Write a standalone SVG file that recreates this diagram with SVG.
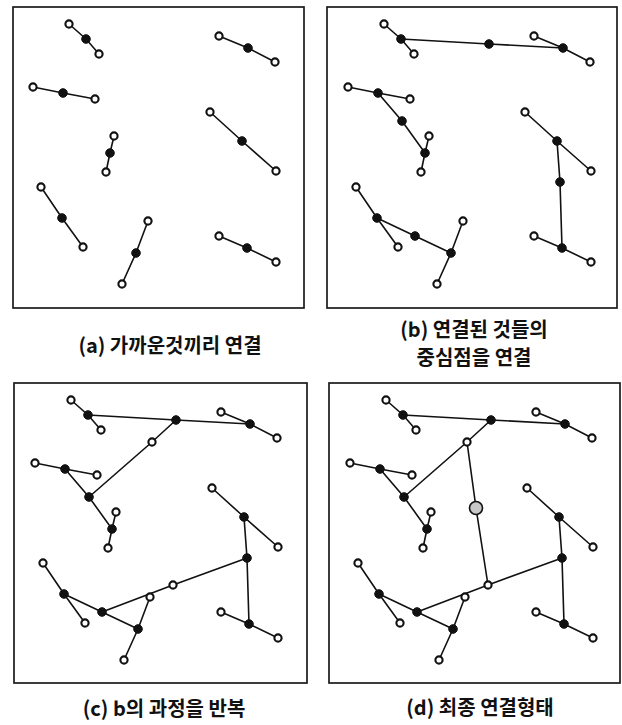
<svg xmlns="http://www.w3.org/2000/svg" width="622" height="725" viewBox="0 0 622 725">
<style>
.frame{fill:none;stroke:#1a1a1a;stroke-width:1.7}
.e{stroke:#111;stroke-width:1.6;fill:none;stroke-linecap:round}
.o{fill:#fff;stroke:#111;stroke-width:2.1}
.f{fill:#111;stroke:#111;stroke-width:1}
.g{fill:#c8c8c8;stroke:#111;stroke-width:1.6}
.lbl{font-family:"Noto Sans CJK KR","Noto Sans",sans-serif;font-weight:bold;font-size:20px;fill:#111;text-anchor:middle}
</style>
<rect width="622" height="725" fill="#fff"/>
<rect class="frame" x="13" y="7" width="291" height="301"/>
<rect class="frame" x="327" y="7" width="290" height="301"/>
<rect class="frame" x="14" y="383" width="293" height="300"/>
<rect class="frame" x="329" y="383" width="291" height="300"/>

<!-- Panel a -->
<g id="panel-a">
<g id="a-connectors">
<polyline class="e" points="69,24 86,39 99,54"/>
<polyline class="e" points="219,36 248,48 275,62"/>
<polyline class="e" points="33,87 63,93 95,99"/>
<polyline class="e" points="210,112 242,141 276,171"/>
<polyline class="e" points="114,136 110,153 106,172"/>
<polyline class="e" points="41,187 62,218 83,247"/>
<polyline class="e" points="148,221 136,253 122,284"/>
<polyline class="e" points="219,236 247,248 276,262"/>
</g>
<g id="a-O1a"><circle class="o" cx="69" cy="24" r="3.6"/></g>
<g id="a-F1"><circle class="f" cx="86" cy="39" r="4.3"/></g>
<g id="a-O1b"><circle class="o" cx="99" cy="54" r="3.6"/></g>
<g id="a-O2a"><circle class="o" cx="219" cy="36" r="3.6"/></g>
<g id="a-F2"><circle class="f" cx="248" cy="48" r="4.3"/></g>
<g id="a-O2b"><circle class="o" cx="275" cy="62" r="3.6"/></g>
<g id="a-O3a"><circle class="o" cx="33" cy="87" r="3.6"/></g>
<g id="a-F3"><circle class="f" cx="63" cy="93" r="4.3"/></g>
<g id="a-O3b"><circle class="o" cx="95" cy="99" r="3.6"/></g>
<g id="a-O4a"><circle class="o" cx="210" cy="112" r="3.6"/></g>
<g id="a-F4"><circle class="f" cx="242" cy="141" r="4.3"/></g>
<g id="a-O4b"><circle class="o" cx="276" cy="171" r="3.6"/></g>
<g id="a-O5a"><circle class="o" cx="114" cy="136" r="3.6"/></g>
<g id="a-F5"><circle class="f" cx="110" cy="153" r="4.3"/></g>
<g id="a-O5b"><circle class="o" cx="106" cy="172" r="3.6"/></g>
<g id="a-O6a"><circle class="o" cx="41" cy="187" r="3.6"/></g>
<g id="a-F6"><circle class="f" cx="62" cy="218" r="4.3"/></g>
<g id="a-O6b"><circle class="o" cx="83" cy="247" r="3.6"/></g>
<g id="a-O7a"><circle class="o" cx="148" cy="221" r="3.6"/></g>
<g id="a-F7"><circle class="f" cx="136" cy="253" r="4.3"/></g>
<g id="a-O7b"><circle class="o" cx="122" cy="284" r="3.6"/></g>
<g id="a-O8a"><circle class="o" cx="219" cy="236" r="3.6"/></g>
<g id="a-F8"><circle class="f" cx="247" cy="248" r="4.3"/></g>
<g id="a-O8b"><circle class="o" cx="276" cy="262" r="3.6"/></g>
</g>

<!-- Panel b -->
<g id="panel-b" transform="translate(315,0)">
<g id="b-connectors">
<polyline class="e" points="69,24 86,39 99,54"/>
<polyline class="e" points="219,36 248,48 275,62"/>
<polyline class="e" points="33,87 63,93 95,99"/>
<polyline class="e" points="210,112 242,141 276,171"/>
<polyline class="e" points="114,136 110,153 106,172"/>
<polyline class="e" points="41,187 62,218 83,247"/>
<polyline class="e" points="148,221 136,253 122,284"/>
<polyline class="e" points="219,236 247,248 276,262"/>
<polyline class="e" points="86,39 174,44 248,48"/>
<polyline class="e" points="63,93 87,121 110,153"/>
<polyline class="e" points="242,141 245,182 247,248"/>
<polyline class="e" points="62,218 100,236 136,253"/>
</g>
<g id="b-O1a"><circle class="o" cx="69" cy="24" r="3.6"/></g>
<g id="b-F1"><circle class="f" cx="86" cy="39" r="4.3"/></g>
<g id="b-O1b"><circle class="o" cx="99" cy="54" r="3.6"/></g>
<g id="b-O2a"><circle class="o" cx="219" cy="36" r="3.6"/></g>
<g id="b-F2"><circle class="f" cx="248" cy="48" r="4.3"/></g>
<g id="b-O2b"><circle class="o" cx="275" cy="62" r="3.6"/></g>
<g id="b-O3a"><circle class="o" cx="33" cy="87" r="3.6"/></g>
<g id="b-F3"><circle class="f" cx="63" cy="93" r="4.3"/></g>
<g id="b-O3b"><circle class="o" cx="95" cy="99" r="3.6"/></g>
<g id="b-O4a"><circle class="o" cx="210" cy="112" r="3.6"/></g>
<g id="b-F4"><circle class="f" cx="242" cy="141" r="4.3"/></g>
<g id="b-O4b"><circle class="o" cx="276" cy="171" r="3.6"/></g>
<g id="b-O5a"><circle class="o" cx="114" cy="136" r="3.6"/></g>
<g id="b-F5"><circle class="f" cx="110" cy="153" r="4.3"/></g>
<g id="b-O5b"><circle class="o" cx="106" cy="172" r="3.6"/></g>
<g id="b-O6a"><circle class="o" cx="41" cy="187" r="3.6"/></g>
<g id="b-F6"><circle class="f" cx="62" cy="218" r="4.3"/></g>
<g id="b-O6b"><circle class="o" cx="83" cy="247" r="3.6"/></g>
<g id="b-O7a"><circle class="o" cx="148" cy="221" r="3.6"/></g>
<g id="b-F7"><circle class="f" cx="136" cy="253" r="4.3"/></g>
<g id="b-O7b"><circle class="o" cx="122" cy="284" r="3.6"/></g>
<g id="b-O8a"><circle class="o" cx="219" cy="236" r="3.6"/></g>
<g id="b-F8"><circle class="f" cx="247" cy="248" r="4.3"/></g>
<g id="b-O8b"><circle class="o" cx="276" cy="262" r="3.6"/></g>
<g id="b-M12"><circle class="f" cx="174" cy="44" r="4.3"/></g>
<g id="b-M35"><circle class="f" cx="87" cy="121" r="4.3"/></g>
<g id="b-M48"><circle class="f" cx="245" cy="182" r="4.3"/></g>
<g id="b-M67"><circle class="f" cx="100" cy="236" r="4.3"/></g>
</g>

<!-- Panel c -->
<g id="panel-c" transform="translate(2,376)">
<g id="c-connectors">
<polyline class="e" points="69,24 86,39 99,54"/>
<polyline class="e" points="219,36 248,48 275,62"/>
<polyline class="e" points="33,87 63,93 95,99"/>
<polyline class="e" points="210,112 242,141 276,171"/>
<polyline class="e" points="114,136 110,153 106,172"/>
<polyline class="e" points="41,187 62,218 83,247"/>
<polyline class="e" points="148,221 136,253 122,284"/>
<polyline class="e" points="219,236 247,248 276,262"/>
<polyline class="e" points="86,39 174,44 248,48"/>
<polyline class="e" points="63,93 87,121 110,153"/>
<polyline class="e" points="242,141 245,182 247,248"/>
<polyline class="e" points="62,218 100,236 136,253"/>
<polyline class="e" points="174,44 150,66 87,121"/>
<polyline class="e" points="100,236 171,209 245,182"/>
</g>
<g id="c-O1a"><circle class="o" cx="69" cy="24" r="3.6"/></g>
<g id="c-F1"><circle class="f" cx="86" cy="39" r="4.3"/></g>
<g id="c-O1b"><circle class="o" cx="99" cy="54" r="3.6"/></g>
<g id="c-O2a"><circle class="o" cx="219" cy="36" r="3.6"/></g>
<g id="c-F2"><circle class="f" cx="248" cy="48" r="4.3"/></g>
<g id="c-O2b"><circle class="o" cx="275" cy="62" r="3.6"/></g>
<g id="c-O3a"><circle class="o" cx="33" cy="87" r="3.6"/></g>
<g id="c-F3"><circle class="f" cx="63" cy="93" r="4.3"/></g>
<g id="c-O3b"><circle class="o" cx="95" cy="99" r="3.6"/></g>
<g id="c-O4a"><circle class="o" cx="210" cy="112" r="3.6"/></g>
<g id="c-F4"><circle class="f" cx="242" cy="141" r="4.3"/></g>
<g id="c-O4b"><circle class="o" cx="276" cy="171" r="3.6"/></g>
<g id="c-O5a"><circle class="o" cx="114" cy="136" r="3.6"/></g>
<g id="c-F5"><circle class="f" cx="110" cy="153" r="4.3"/></g>
<g id="c-O5b"><circle class="o" cx="106" cy="172" r="3.6"/></g>
<g id="c-O6a"><circle class="o" cx="41" cy="187" r="3.6"/></g>
<g id="c-F6"><circle class="f" cx="62" cy="218" r="4.3"/></g>
<g id="c-O6b"><circle class="o" cx="83" cy="247" r="3.6"/></g>
<g id="c-O7a"><circle class="o" cx="148" cy="221" r="3.6"/></g>
<g id="c-F7"><circle class="f" cx="136" cy="253" r="4.3"/></g>
<g id="c-O7b"><circle class="o" cx="122" cy="284" r="3.6"/></g>
<g id="c-O8a"><circle class="o" cx="219" cy="236" r="3.6"/></g>
<g id="c-F8"><circle class="f" cx="247" cy="248" r="4.3"/></g>
<g id="c-O8b"><circle class="o" cx="276" cy="262" r="3.6"/></g>
<g id="c-M12"><circle class="f" cx="174" cy="44" r="4.3"/></g>
<g id="c-M35"><circle class="f" cx="87" cy="121" r="4.3"/></g>
<g id="c-M48"><circle class="f" cx="245" cy="182" r="4.3"/></g>
<g id="c-M67"><circle class="f" cx="100" cy="236" r="4.3"/></g>
<g id="c-N1"><circle class="o" cx="150" cy="66" r="3.6"/></g>
<g id="c-N2"><circle class="o" cx="171" cy="209" r="3.6"/></g>
</g>

<!-- Panel d -->
<g id="panel-d" transform="translate(317,376)">
<g id="d-connectors">
<polyline class="e" points="69,24 86,39 99,54"/>
<polyline class="e" points="219,36 248,48 275,62"/>
<polyline class="e" points="33,87 63,93 95,99"/>
<polyline class="e" points="210,112 242,141 276,171"/>
<polyline class="e" points="114,136 110,153 106,172"/>
<polyline class="e" points="41,187 62,218 83,247"/>
<polyline class="e" points="148,221 136,253 122,284"/>
<polyline class="e" points="219,236 247,248 276,262"/>
<polyline class="e" points="86,39 174,44 248,48"/>
<polyline class="e" points="63,93 87,121 110,153"/>
<polyline class="e" points="242,141 245,182 247,248"/>
<polyline class="e" points="62,218 100,236 136,253"/>
<polyline class="e" points="174,44 150,66 87,121"/>
<polyline class="e" points="100,236 171,209 245,182"/>
<polyline class="e" points="150,66 159,132 171,209"/>
</g>
<g id="d-O1a"><circle class="o" cx="69" cy="24" r="3.6"/></g>
<g id="d-F1"><circle class="f" cx="86" cy="39" r="4.3"/></g>
<g id="d-O1b"><circle class="o" cx="99" cy="54" r="3.6"/></g>
<g id="d-O2a"><circle class="o" cx="219" cy="36" r="3.6"/></g>
<g id="d-F2"><circle class="f" cx="248" cy="48" r="4.3"/></g>
<g id="d-O2b"><circle class="o" cx="275" cy="62" r="3.6"/></g>
<g id="d-O3a"><circle class="o" cx="33" cy="87" r="3.6"/></g>
<g id="d-F3"><circle class="f" cx="63" cy="93" r="4.3"/></g>
<g id="d-O3b"><circle class="o" cx="95" cy="99" r="3.6"/></g>
<g id="d-O4a"><circle class="o" cx="210" cy="112" r="3.6"/></g>
<g id="d-F4"><circle class="f" cx="242" cy="141" r="4.3"/></g>
<g id="d-O4b"><circle class="o" cx="276" cy="171" r="3.6"/></g>
<g id="d-O5a"><circle class="o" cx="114" cy="136" r="3.6"/></g>
<g id="d-F5"><circle class="f" cx="110" cy="153" r="4.3"/></g>
<g id="d-O5b"><circle class="o" cx="106" cy="172" r="3.6"/></g>
<g id="d-O6a"><circle class="o" cx="41" cy="187" r="3.6"/></g>
<g id="d-F6"><circle class="f" cx="62" cy="218" r="4.3"/></g>
<g id="d-O6b"><circle class="o" cx="83" cy="247" r="3.6"/></g>
<g id="d-O7a"><circle class="o" cx="148" cy="221" r="3.6"/></g>
<g id="d-F7"><circle class="f" cx="136" cy="253" r="4.3"/></g>
<g id="d-O7b"><circle class="o" cx="122" cy="284" r="3.6"/></g>
<g id="d-O8a"><circle class="o" cx="219" cy="236" r="3.6"/></g>
<g id="d-F8"><circle class="f" cx="247" cy="248" r="4.3"/></g>
<g id="d-O8b"><circle class="o" cx="276" cy="262" r="3.6"/></g>
<g id="d-M12"><circle class="f" cx="174" cy="44" r="4.3"/></g>
<g id="d-M35"><circle class="f" cx="87" cy="121" r="4.3"/></g>
<g id="d-M48"><circle class="f" cx="245" cy="182" r="4.3"/></g>
<g id="d-M67"><circle class="f" cx="100" cy="236" r="4.3"/></g>
<g id="d-N1"><circle class="o" cx="150" cy="66" r="3.6"/></g>
<g id="d-N2"><circle class="o" cx="171" cy="209" r="3.6"/></g>
<g id="d-G"><circle class="g" cx="159" cy="132" r="6.5"/></g>
</g>

<!-- Labels -->
<g id="labels">
<text class="lbl" x="170" y="353">(a) 가까운것끼리 연결</text>
<text class="lbl" x="474" y="337">(b) 연결된 것들의</text>
<text class="lbl" x="474" y="365">중심점을 연결</text>
<text class="lbl" x="164" y="716">(c) b의 과정을 반복</text>
<text class="lbl" x="480" y="715">(d) 최종 연결형태</text>
</g>
</svg>
